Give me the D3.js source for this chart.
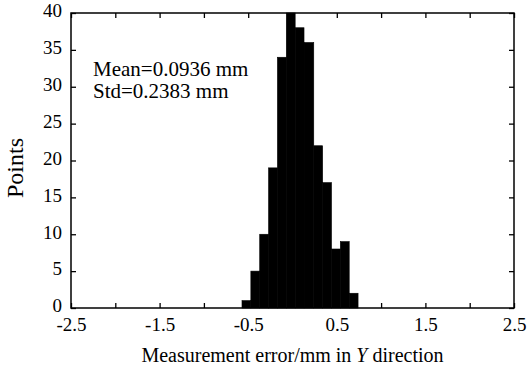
<!DOCTYPE html>
<html>
<head>
    <meta charset="utf-8">
    <title>Measurement error histogram</title>
    <script src="https://d3js.org/d3.v7.min.js"></script>
    <style>
        body {
            margin: 0;
            padding: 0;
            background-color: #ffffff;
        }
        text {
            font-family: "Liberation Serif", "Times New Roman", serif;
            fill: #000;
        }
        .bar {
            fill: #000;
            stroke: #000;
            stroke-width: 0.6;
        }
    </style>
</head>
<body>
    <div id="chart"></div>

    <script>
        // histogram bins (edges in mm, counts in points)
        var binEdges = [-0.57, -0.47, -0.37, -0.27, -0.17, -0.07, 0.03, 0.13, 0.24, 0.34, 0.44, 0.54, 0.64, 0.74];
        var binCounts = [1, 5, 10, 19, 34, 40, 38, 36, 22, 17, 8, 9, 2];

        var xTicks = [-2.5, -2, -1.5, -1, -0.5, 0, 0.5, 1, 1.5, 2, 2.5];
        var xTickLabels = [-2.5, -1.5, -0.5, 0.5, 1.5, 2.5];
        var yTicks = [0, 5, 10, 15, 20, 25, 30, 35, 40];

        var statLines = ["Mean=0.0936 mm", "Std=0.2383 mm"];

        var W = 529, H = 369;
        var margin = { top: 13, right: 15, bottom: 61, left: 71 };
        var width = W - margin.left - margin.right;
        var height = H - margin.top - margin.bottom;

        var svg = d3.select("#chart")
            .append("svg")
            .attr("width", W)
            .attr("height", H);

        var g = svg.append("g")
            .attr("transform", "translate(" + margin.left + "," + margin.top + ")");

        var x = d3.scaleLinear().domain([-2.5, 2.5]).range([0, width]);
        var y = d3.scaleLinear().domain([0, 40]).range([height, 0]);

        // bars
        var bins = binCounts.map(function(c, i) {
            return { x0: binEdges[i], x1: binEdges[i + 1], count: c };
        });

        g.selectAll(".bar")
            .data(bins)
            .enter().append("rect")
            .attr("class", "bar")
            .attr("x", function(d) { return x(d.x0); })
            .attr("width", function(d) { return x(d.x1) - x(d.x0); })
            .attr("y", function(d) { return y(Math.min(d.count, 40)); })
            .attr("height", function(d) { return y(0) - y(Math.min(d.count, 40)); });

        // axes, ticks pointing inwards on all four sides
        var fmt = function(d) { return xTickLabels.indexOf(d) >= 0 ? d : ""; };

        var xBottom = g.append("g")
            .attr("transform", "translate(0," + height + ")")
            .call(d3.axisBottom(x).tickValues(xTicks).tickSizeInner(-5).tickSizeOuter(0).tickPadding(10).tickFormat(fmt));
        var xTop = g.append("g")
            .call(d3.axisTop(x).tickValues(xTicks).tickSizeInner(-5).tickSizeOuter(0).tickFormat(""));
        var yLeft = g.append("g")
            .call(d3.axisLeft(y).tickValues(yTicks).tickSizeInner(-5).tickSizeOuter(0).tickPadding(9));
        var yRight = g.append("g")
            .attr("transform", "translate(" + width + ",0)")
            .call(d3.axisRight(y).tickValues(yTicks).tickSizeInner(-5).tickSizeOuter(0).tickFormat(""));

        [xBottom, xTop, yLeft, yRight].forEach(function(a) {
            a.select(".domain").remove();
            a.selectAll("line").attr("stroke", "#000").attr("stroke-width", 1.3);
            a.selectAll("text")
                .style("font-family", "'Liberation Serif', serif")
                .style("font-size", "19px")
                .attr("fill", "#000");
        });
        yLeft.selectAll("text").attr("dy", "0.2em");

        // frame
        g.append("rect")
            .attr("x", 0)
            .attr("y", 0)
            .attr("width", width)
            .attr("height", height)
            .attr("fill", "none")
            .attr("stroke", "#000")
            .attr("stroke-width", 1.5);

        // stats text
        g.selectAll(".stat")
            .data(statLines)
            .enter().append("text")
            .attr("class", "stat")
            .attr("x", 22)
            .attr("y", function(d, i) { return 63 + i * 22; })
            .style("font-size", "21px")
            .text(function(d) { return d; });

        // axis titles
        var xTitle = svg.append("text")
            .attr("x", margin.left + width / 2)
            .attr("y", 362)
            .attr("text-anchor", "middle")
            .style("font-size", "20px");
        xTitle.append("tspan").text("Measurement error/mm in ");
        xTitle.append("tspan").style("font-style", "italic").text("Y");
        xTitle.append("tspan").text(" direction");

        svg.append("text")
            .attr("transform", "translate(23," + 168 + ") rotate(-90)")
            .attr("text-anchor", "middle")
            .style("font-size", "24px")
            .text("Points");
    </script>
</body>
</html>
